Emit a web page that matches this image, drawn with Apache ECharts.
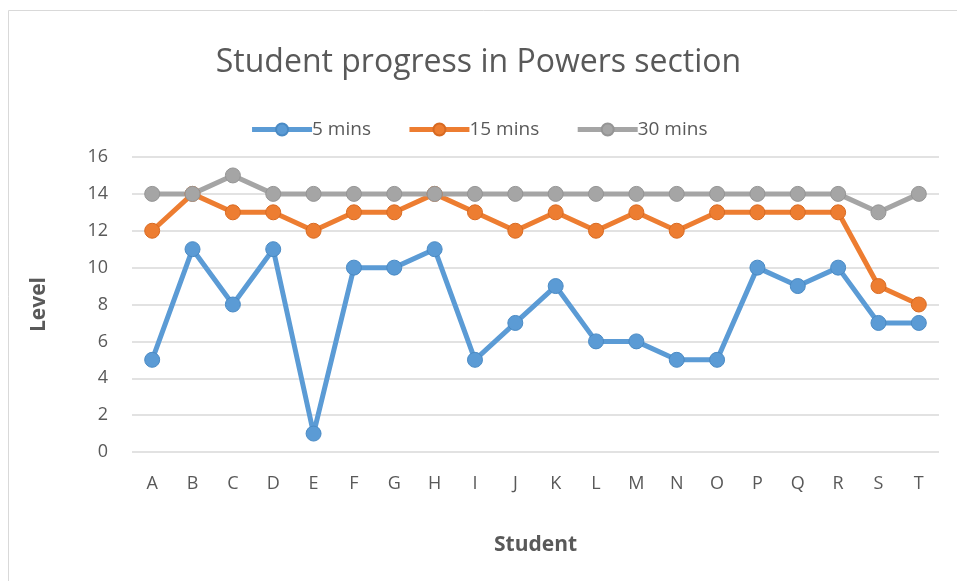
<!DOCTYPE html>
<html>
<head>
<meta charset="utf-8">
<script src="https://cdn.jsdelivr.net/npm/echarts@6/dist/echarts.min.js"></script>
<style>
  html, body { margin: 0; padding: 0; background: #fff; }
  #main { width: 957px; height: 581px; }
</style>
</head>
<body>
<div id="main"></div>
<script>
var students = ['A', 'B', 'C', 'D', 'E', 'F', 'G', 'H', 'I', 'J', 'K', 'L', 'M', 'N', 'O', 'P', 'Q', 'R', 'S', 'T'];
var mins5 = [5, 11, 8, 11, 1, 10, 10, 11, 5, 7, 9, 6, 6, 5, 5, 10, 9, 10, 7, 7];
var mins15 = [12, 14, 13, 13, 12, 13, 13, 14, 13, 12, 13, 12, 13, 12, 13, 13, 13, 13, 9, 8];
var mins30 = [14, 14, 15, 14, 14, 14, 14, 14, 14, 14, 14, 14, 14, 14, 14, 14, 14, 14, 13, 14];

var font = '"Open Sans", "Liberation Sans", sans-serif';
var textColor = '#595959';

var chartDom = document.getElementById('main');
var myChart = echarts.init(chartDom);

function makeSeries(name, data, color, edge) {
  return {
    name: name,
    type: 'line',
    data: data,
    symbol: 'circle',
    symbolSize: 15,
    lineStyle: { width: 5, color: color },
    itemStyle: { color: color, borderColor: edge, borderWidth: 1 },
    emphasis: { disabled: true }
  };
}

var option = {
  animation: false,
  textStyle: { fontFamily: font },
  graphic: [{
    type: 'rect',
    shape: { x: 8.5, y: 10.5, width: 960, height: 580 },
    style: { fill: 'none', stroke: '#d9d9d9', lineWidth: 1 },
    silent: true
  }],
  title: {
    text: 'Student progress in Powers section',
    left: 'center',
    top: 42,
    textStyle: { fontFamily: font, fontSize: 32, fontWeight: 'normal', color: textColor }
  },
  legend: {
    top: 115,
    left: 'center',
    itemWidth: 60,
    itemHeight: 15,
    itemGap: 36,
    lineStyle: { width: 5 },
    textStyle: { fontFamily: font, fontSize: 19, color: textColor, padding: [0, 0, 0, -5] },
    data: ['5 mins', '15 mins', '30 mins']
  },
  grid: {
    left: 132,
    right: 18,
    top: 157,
    bottom: 129,
    containLabel: false
  },
  xAxis: {
    type: 'category',
    data: students,
    boundaryGap: true,
    name: 'Student',
    nameLocation: 'middle',
    nameGap: 83,
    nameTextStyle: { fontFamily: font, fontSize: 21, fontWeight: 'bold', color: textColor },
    axisLine: { show: false },
    axisTick: { show: false },
    axisLabel: { fontFamily: font, fontSize: 18, color: textColor, margin: 23 }
  },
  yAxis: {
    type: 'value',
    min: 0,
    max: 16,
    interval: 2,
    name: 'Level',
    nameLocation: 'middle',
    nameGap: 82,
    nameTextStyle: { fontFamily: font, fontSize: 21, fontWeight: 'bold', color: textColor },
    axisLine: { show: false },
    axisTick: { show: false },
    axisLabel: { fontFamily: font, fontSize: 18, color: textColor, margin: 24 },
    splitLine: { lineStyle: { color: '#d9d9d9', width: 1.5 } }
  },
  series: [
    makeSeries('5 mins', mins5, '#5b9bd5', '#4a8ac4'),
    makeSeries('15 mins', mins15, '#ed7d31', '#d86a22'),
    makeSeries('30 mins', mins30, '#a5a5a5', '#959595')
  ]
};

option && myChart.setOption(option);
</script>
</body>
</html>
